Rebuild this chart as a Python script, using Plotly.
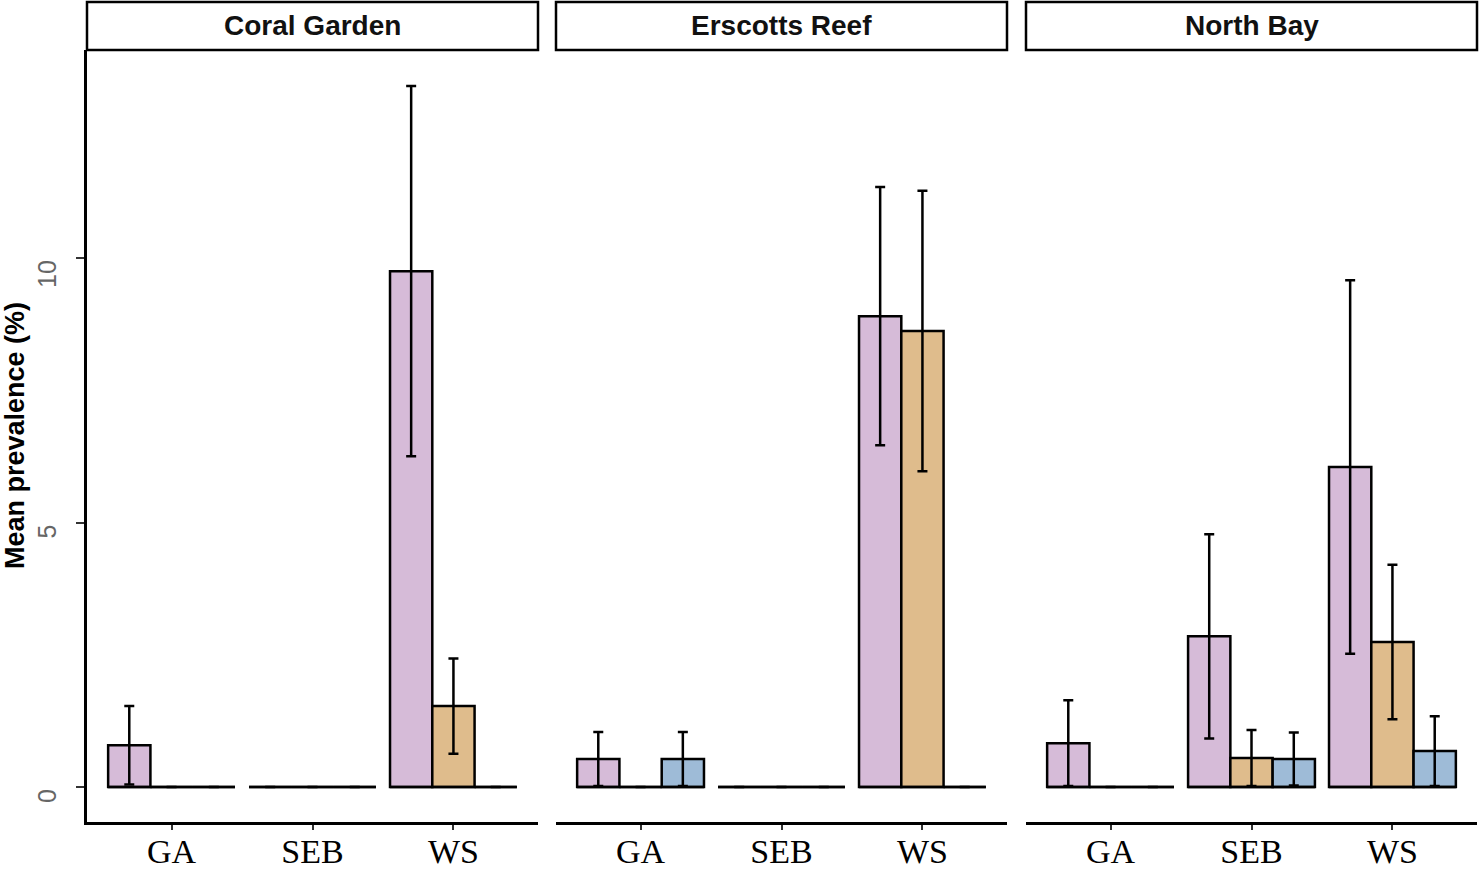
import plotly.graph_objects as go

# facet panels and disease categories
sites = ["Coral Garden", "Erscotts Reef", "North Bay"]
diseases = ["GA", "SEB", "WS"]
y_ticks = [0, 5, 10]

# mean prevalence (%) per site, one list per bar colour
coral_pink = [0.79, 0.0, 9.75]
coral_pink_se = [0.74, None, 3.50]
coral_tan = [0.0, 0.0, 1.53]
coral_tan_se = [None, None, 0.90]
coral_blue = [0.0, 0.0, 0.0]
coral_blue_se = [None, None, None]

erscotts_pink = [0.53, 0.0, 8.90]
erscotts_pink_se = [0.51, None, 2.44]
erscotts_tan = [0.0, 0.0, 8.62]
erscotts_tan_se = [None, None, 2.65]
erscotts_blue = [0.53, 0.0, 0.0]
erscotts_blue_se = [0.51, None, None]

north_pink = [0.83, 2.85, 6.05]
north_pink_se = [0.81, 1.93, 3.53]
north_tan = [0.0, 0.55, 2.74]
north_tan_se = [None, 0.53, 1.46]
north_blue = [0.0, 0.53, 0.68]
north_blue_se = [None, 0.50, 0.66]

colours = ["#D6BBD8", "#DFBC8C", "#9EBBD7"]

panels = [
    [(coral_pink, coral_pink_se), (coral_tan, coral_tan_se), (coral_blue, coral_blue_se)],
    [(erscotts_pink, erscotts_pink_se), (erscotts_tan, erscotts_tan_se), (erscotts_blue, erscotts_blue_se)],
    [(north_pink, north_pink_se), (north_tan, north_tan_se), (north_blue, north_blue_se)],
]

W, H = 1481, 871
x_domains = [(87 / W, 538 / W), (556 / W, 1007 / W), (1026 / W, 1477 / W)]
y_domain = (1 - 822 / H, 1 - 50 / H)
xpos = list(range(len(diseases)))

fig = go.Figure()

for i, series in enumerate(panels):
    xa = "x" if i == 0 else "x%d" % (i + 1)
    ya = "y" if i == 0 else "y%d" % (i + 1)
    for (vals, se), col in zip(series, colours):
        fig.add_trace(go.Bar(
            x=xpos, y=vals, xaxis=xa, yaxis=ya,
            marker=dict(color=col, line=dict(color="black", width=2.5)),
            error_y=dict(type="data", array=se, color="black", thickness=2.5, width=5),
            showlegend=False,
        ))
    # zero-height bars still show their outline in the original, as a baseline across the group
    bx, by = [], []
    for c in xpos:
        bx += [c - 0.45, c + 0.45, None]
        by += [0, 0, None]
    fig.add_trace(go.Scatter(x=bx, y=by, xaxis=xa, yaxis=ya, mode="lines",
                             line=dict(color="black", width=2.5), showlegend=False,
                             hoverinfo="skip"))

    xkey = "xaxis" if i == 0 else "xaxis%d" % (i + 1)
    ykey = "yaxis" if i == 0 else "yaxis%d" % (i + 1)
    fig.layout[xkey] = dict(
        domain=x_domains[i], anchor=ya, range=[-0.6, 2.6], automargin=False,
        tickvals=xpos, ticktext=diseases, ticks="outside", ticklen=5,
        tickcolor="#333333", tickwidth=1.5, ticklabelstandoff=-8,
        showline=True, linecolor="black", linewidth=2.5,
        showgrid=False, zeroline=False,
        tickfont=dict(family="Liberation Serif", size=34, color="black"),
    )
    yax = dict(domain=y_domain, anchor=xa, range=[-0.66, 13.93], automargin=False,
               showgrid=False, zeroline=False, showticklabels=False)
    if i == 0:
        yax.update(tickvals=y_ticks, ticks="outside", ticklen=8, tickwidth=1.5,
                   tickcolor="#333333", showline=True, linecolor="black", linewidth=2.5)
    else:
        yax.update(matches="y", ticks="", showline=False)
    fig.layout[ykey] = yax

    # facet strip
    fig.add_shape(type="rect", xref="paper", yref="paper",
                  x0=x_domains[i][0], x1=x_domains[i][1],
                  y0=1 - 50 / H, y1=1 - 2 / H,
                  line=dict(color="black", width=2.5), fillcolor="white")
    fig.add_annotation(text="<b>%s</b>" % sites[i], xref="paper", yref="paper",
                       x=sum(x_domains[i]) / 2, y=1 - 26 / H, showarrow=False,
                       xanchor="center", yanchor="middle",
                       font=dict(family="Liberation Sans", size=28, color="#111111"))

# y tick labels: rotated and end-aligned at the tick, as in the original
for t in y_ticks:
    fig.add_annotation(text=str(t), xref="paper", yref="y", x=47 / W, y=t,
                       textangle=-90, showarrow=False, xanchor="center", yanchor="top",
                       font=dict(family="Liberation Sans", size=25, color="#666666"))

fig.add_annotation(text="<b>Mean prevalence (%)</b>", xref="paper", yref="paper",
                   x=15 / W, y=1 - 436 / H, textangle=-90, showarrow=False,
                   xanchor="center", yanchor="middle",
                   font=dict(family="Liberation Sans", size=27, color="black"))

fig.update_layout(
    width=W, height=H,
    margin=dict(l=0, r=0, t=0, b=0),
    paper_bgcolor="white", plot_bgcolor="white",
    barmode="group", bargap=0.1, bargroupgap=0,
)

fig.write_html("out.html", config={"displayModeBar": False},
               post_script="document.body.style.margin='0';")
